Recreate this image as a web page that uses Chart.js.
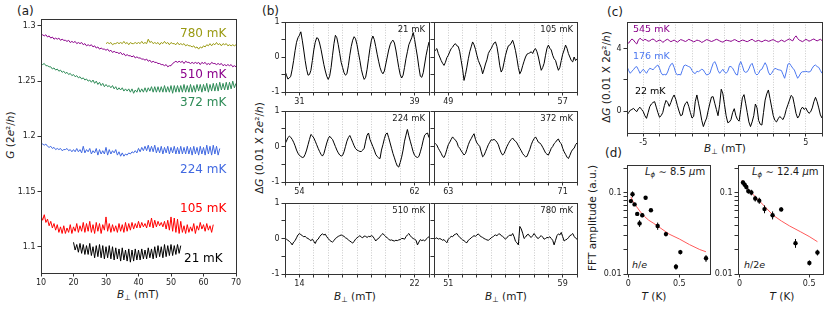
<!DOCTYPE html>
<html>
<head>
<meta charset="utf-8">
<script src="https://cdn.jsdelivr.net/npm/chart.js@4.4.1/dist/chart.umd.min.js"></script>
<style>
  body { margin: 0; background: #fff; }
  #fig { position: relative; width: 830px; height: 312px; overflow: hidden; background: #fff;
         font-family: "DejaVu Sans", sans-serif; color: #1a1a1a; }
  #fig canvas { position: absolute; }
  .t { position: absolute; white-space: nowrap; line-height: 1; }
  .c { transform: translate(-50%, -50%); }
  .l { transform: translate(0, -50%); }
  .r { transform: translate(-100%, -50%); }
  .v { transform: translate(-50%, -50%) rotate(-90deg); }
  .sb { font-size: 70%; vertical-align: -0.3em; }
  .ttl { font-size: 10.5px; }
</style>
</head>
<body>
<div id="fig">
  <!-- panel letters -->
  <div class="t l" style="left:17px;top:11px;font-size:12px">(a)</div>
  <div class="t l" style="left:262px;top:11px;font-size:12px">(b)</div>
  <div class="t l" style="left:607px;top:12px;font-size:12px">(c)</div>
  <div class="t l" style="left:605px;top:153px;font-size:12px">(d)</div>

  <!-- axis titles -->
  <div class="t v ttl" style="left:10px;top:135px"><i>G</i> (2<i>e</i>²/<i>h</i>)</div>
  <div class="t c ttl" style="left:138px;top:295px"><i>B</i><span class="sb">⊥</span> (mT)</div>
  <div class="t v ttl" style="left:259px;top:148px">Δ<i>G</i> (0.01 X 2<i>e</i>²/<i>h</i>)</div>
  <div class="t c ttl" style="left:355px;top:297px"><i>B</i><span class="sb">⊥</span> (mT)</div>
  <div class="t c ttl" style="left:506px;top:297px"><i>B</i><span class="sb">⊥</span> (mT)</div>
  <div class="t v ttl" style="left:606px;top:77px">Δ<i>G</i> (0.01 X 2<i>e</i>²/<i>h</i>)</div>
  <div class="t c ttl" style="left:725px;top:149px"><i>B</i><span class="sb">⊥</span> (mT)</div>
  <div class="t v ttl" style="left:592px;top:218px">FFT amplitude (a.u.)</div>
  <div class="t c ttl" style="left:654px;top:296px"><i>T</i> (K)</div>
  <div class="t c ttl" style="left:782px;top:296px"><i>T</i> (K)</div>

  <!-- panel (d) notes -->
  <div class="t l" style="left:645px;top:173px;font-size:10px"><i>L</i><span class="sb"><i>ϕ</i></span> ∼ 8.5 <i>μ</i>m</div>
  <div class="t l" style="left:752px;top:173px;font-size:10px"><i>L</i><span class="sb"><i>ϕ</i></span> ∼ 12.4 <i>μ</i>m</div>
  <div class="t l" style="left:632px;top:265px;font-size:9.5px"><i>h</i>/<i>e</i></div>
  <div class="t l" style="left:744px;top:265px;font-size:9.5px"><i>h</i>/2<i>e</i></div>
</div>

<script>
// ---------- panel (a): G vs B, one sample every 0.5 mT ----------
const aTemps = ['21 mK', '105 mK', '224 mK', '372 mK', '510 mK', '780 mK'];
const aColors = ['#000000', '#ff0000', '#4169e1', '#2e8b57', '#8b008b', '#9a9a12'];
const aStartB = [20, 10, 10, 10, 10, 30];
const aStepB = 0.5;
const aG21 = [
  1.104,1.097,1.102,1.095,1.103,1.094,1.102,1.093,1.101,1.093,
  1.103,1.092,1.100,1.090,1.101,1.091,1.102,1.090,1.101,1.089,
  1.100,1.090,1.101,1.089,1.100,1.088,1.099,1.089,1.098,1.087,
  1.099,1.088,1.097,1.087,1.098,1.086,1.097,1.087,1.098,1.088,
  1.097,1.088,1.098,1.089,1.097,1.089,1.099,1.090,1.098,1.089,
  1.100,1.090,1.101,1.091,1.100,1.090,1.102,1.091,1.101,1.092,
  1.102,1.092,1.101,1.093,1.102,1.094,1.101];
const aG105 = [
  1.128,1.124,1.129,1.122,1.125,1.119,1.123,1.117,1.121,1.115,
  1.120,1.113,1.118,1.112,1.119,1.112,1.117,1.113,1.120,1.112,
  1.118,1.114,1.121,1.113,1.119,1.114,1.122,1.113,1.121,1.114,
  1.123,1.113,1.120,1.112,1.122,1.114,1.121,1.112,1.120,1.115,
  1.127,1.114,1.121,1.113,1.120,1.114,1.119,1.113,1.121,1.114,
  1.120,1.113,1.122,1.114,1.121,1.115,1.122,1.116,1.121,1.117,
  1.123,1.117,1.122,1.118,1.121,1.117,1.124,1.118,1.126,1.117,
  1.124,1.118,1.123,1.119,1.122,1.118,1.123,1.116,1.124,1.115,
  1.127,1.114,1.126,1.113,1.125,1.112,1.123,1.113,1.119,1.112,
  1.120,1.113,1.118,1.114,1.121,1.112,1.119,1.115,1.122,1.116,
  1.120,1.114,1.121,1.115,1.119,1.113,1.120];
const aG224 = [
  1.194,1.193,1.192,1.193,1.191,1.190,1.191,1.189,1.190,1.188,
  1.189,1.188,1.189,1.187,1.188,1.188,1.189,1.187,1.188,1.186,
  1.188,1.186,1.189,1.186,1.188,1.185,1.191,1.185,1.188,1.186,
  1.189,1.184,1.187,1.185,1.189,1.183,1.188,1.184,1.187,1.184,
  1.190,1.183,1.188,1.184,1.187,1.185,1.188,1.183,1.186,1.182,
  1.185,1.182,1.184,1.183,1.185,1.184,1.186,1.185,1.187,1.185,
  1.189,1.186,1.190,1.187,1.191,1.187,1.192,1.186,1.191,1.186,
  1.192,1.185,1.190,1.185,1.191,1.184,1.190,1.185,1.191,1.184,
  1.190,1.185,1.191,1.184,1.190,1.184,1.191,1.184,1.190,1.184,
  1.191,1.184,1.190,1.183,1.191,1.184,1.190,1.183,1.191,1.184,
  1.190,1.183,1.192,1.184,1.191,1.183,1.192,1.184,1.191,1.183,
  1.189];
const aG372 = [
  1.266,1.265,1.266,1.264,1.264,1.263,1.263,1.261,1.262,1.260,
  1.261,1.259,1.260,1.258,1.259,1.257,1.258,1.256,1.257,1.255,
  1.256,1.254,1.255,1.253,1.254,1.252,1.253,1.251,1.252,1.250,
  1.251,1.249,1.251,1.248,1.250,1.247,1.249,1.246,1.248,1.245,
  1.247,1.245,1.246,1.244,1.246,1.243,1.245,1.242,1.244,1.242,
  1.244,1.241,1.243,1.241,1.243,1.240,1.243,1.239,1.242,1.240,
  1.244,1.240,1.243,1.240,1.244,1.240,1.244,1.241,1.245,1.240,
  1.245,1.240,1.245,1.240,1.245,1.240,1.246,1.240,1.245,1.240,
  1.246,1.239,1.246,1.240,1.246,1.240,1.246,1.240,1.247,1.240,
  1.246,1.240,1.247,1.240,1.246,1.240,1.247,1.241,1.247,1.240,
  1.247,1.241,1.248,1.240,1.247,1.241,1.248,1.241,1.248,1.241,
  1.249,1.242,1.248,1.242,1.249,1.242,1.249,1.243,1.250,1.244,
  1.248];
const aG510 = [
  1.291,1.292,1.291,1.292,1.290,1.291,1.289,1.290,1.288,1.289,
  1.288,1.289,1.287,1.288,1.287,1.287,1.286,1.287,1.285,1.286,
  1.285,1.286,1.284,1.285,1.284,1.285,1.283,1.284,1.282,1.283,
  1.282,1.283,1.281,1.282,1.280,1.281,1.279,1.280,1.279,1.279,
  1.278,1.279,1.277,1.278,1.276,1.277,1.276,1.276,1.275,1.276,
  1.274,1.275,1.273,1.274,1.273,1.273,1.272,1.273,1.271,1.272,
  1.271,1.271,1.270,1.270,1.269,1.270,1.268,1.269,1.267,1.268,
  1.267,1.267,1.266,1.266,1.265,1.265,1.264,1.265,1.263,1.264,
  1.264,1.266,1.267,1.268,1.267,1.268,1.267,1.268,1.266,1.268,
  1.267,1.267,1.266,1.267,1.266,1.267,1.266,1.267,1.265,1.267,
  1.266,1.267,1.265,1.266,1.265,1.267,1.266,1.266,1.265,1.266,
  1.265,1.266,1.264,1.265,1.264,1.265,1.264,1.265,1.263,1.264,
  1.263];
const aG780 = [
  1.284,1.285,1.284,1.285,1.283,1.284,1.284,1.285,1.284,1.285,
  1.284,1.286,1.284,1.285,1.283,1.285,1.284,1.284,1.285,1.284,
  1.285,1.284,1.286,1.284,1.285,1.284,1.288,1.285,1.286,1.284,
  1.285,1.284,1.285,1.283,1.285,1.284,1.286,1.284,1.285,1.283,
  1.285,1.284,1.284,1.283,1.285,1.283,1.284,1.283,1.284,1.282,
  1.283,1.282,1.282,1.281,1.282,1.280,1.281,1.279,1.281,1.280,
  1.282,1.281,1.283,1.282,1.284,1.282,1.284,1.283,1.285,1.283,
  1.284,1.282,1.284,1.283,1.284,1.282,1.283,1.282,1.283,1.282,
  1.283];
const aTicksX = [10, 20, 30, 40, 50, 60, 70];
const aTicksY = [1.1, 1.15, 1.2, 1.25, 1.3];

// ---------- panel (b): ΔG windows, one sample every 0.1 mT ----------
const bTemps = ['21 mK', '105 mK', '224 mK', '372 mK', '510 mK', '780 mK'];
const bStartB = [30, 48, 53, 62, 13, 50];
const bStepB = 0.1;
const bDG21 = [
  -0.40,-0.52,-0.63,-0.60,-0.55,-0.35,-0.10,0.18,0.42,0.55,
  0.62,0.72,0.48,0.20,-0.10,-0.35,-0.52,-0.50,-0.38,-0.10,
  0.20,0.42,0.55,0.53,0.40,0.22,0.00,-0.22,-0.40,-0.55,
  -0.64,-0.55,-0.30,0.05,0.38,0.62,0.55,0.35,0.10,-0.15,
  -0.30,-0.45,-0.52,-0.48,-0.25,0.05,0.30,0.48,0.58,0.52,
  0.35,0.12,-0.10,-0.35,-0.52,-0.64,-0.58,-0.35,-0.05,0.25,
  0.48,0.60,0.50,0.30,0.08,-0.12,-0.30,-0.42,-0.48,-0.40,
  -0.20,0.00,0.20,0.35,0.44,0.48,0.40,0.20,-0.05,-0.30,
  -0.50,-0.60,-0.52,-0.30,-0.05,0.15,0.35,0.45,0.55,0.70,
  0.50,0.25,0.00,-0.30,-0.55,-0.58,-0.45,-0.20,0.05,0.25,
  0.43];
const bDG105 = [
  0.14,0.20,0.24,0.10,0.00,-0.10,-0.18,-0.24,-0.15,-0.02,
  0.05,0.15,0.24,0.28,0.35,0.38,0.32,0.30,0.15,-0.10,
  -0.35,-0.67,-0.50,-0.29,-0.05,0.15,0.29,0.43,0.35,0.22,
  0.05,-0.10,-0.20,-0.30,-0.48,-0.35,-0.20,-0.08,0.10,0.18,
  0.24,0.33,0.40,0.43,0.30,0.05,-0.25,-0.43,-0.35,-0.15,
  0.05,0.20,0.32,0.34,0.40,0.48,0.35,0.18,-0.05,-0.30,
  -0.48,-0.40,-0.25,-0.12,0.00,0.08,0.10,0.12,0.15,0.10,
  0.20,0.24,0.15,0.00,-0.20,-0.38,-0.30,-0.18,0.05,0.25,
  0.34,0.25,0.20,0.05,-0.05,-0.10,-0.25,-0.38,-0.30,-0.10,
  0.08,0.20,0.34,0.25,0.10,0.00,-0.10,-0.14,0.00,-0.10,
  -0.05];
const bDG224 = [
  0.08,0.15,0.25,0.29,0.26,0.20,0.12,0.02,-0.10,-0.19,
  -0.25,-0.28,-0.31,-0.30,-0.22,-0.10,0.05,0.20,0.34,0.30,
  0.24,0.15,0.05,-0.05,-0.14,-0.22,-0.27,-0.20,-0.05,0.10,
  0.22,0.29,0.24,0.20,0.10,0.00,-0.10,-0.18,-0.24,-0.27,
  -0.25,-0.15,0.00,0.15,0.25,0.31,0.22,0.12,0.02,-0.06,
  -0.10,-0.12,-0.14,-0.14,-0.10,-0.05,0.15,0.32,0.38,0.20,
  0.10,0.00,-0.10,-0.22,-0.28,-0.32,-0.34,-0.10,0.05,0.22,
  0.35,0.38,0.25,0.10,-0.05,-0.20,-0.32,-0.45,-0.55,-0.58,
  -0.45,-0.30,-0.10,0.15,0.32,0.48,0.30,0.15,0.00,-0.15,
  -0.25,-0.29,-0.31,-0.28,-0.15,0.00,0.18,0.32,0.36,0.38,
  0.25];
const bDG372 = [
  0.10,0.08,0.04,-0.05,-0.12,-0.19,-0.28,-0.31,-0.22,-0.08,
  0.05,0.12,0.20,0.27,0.22,0.18,0.12,0.00,-0.05,-0.12,
  -0.18,-0.24,-0.20,-0.08,0.05,0.15,0.22,0.30,0.36,0.20,
  0.10,0.05,0.00,-0.15,-0.29,-0.25,-0.15,-0.05,0.05,0.12,
  0.19,0.18,0.20,0.17,0.12,0.05,-0.08,-0.18,-0.24,-0.20,
  -0.10,0.00,0.08,0.15,0.20,0.24,0.18,0.15,0.10,0.02,
  -0.05,-0.12,-0.20,-0.25,-0.29,-0.28,-0.18,-0.08,0.05,0.15,
  0.22,0.27,0.20,0.12,0.10,0.05,-0.02,-0.10,-0.18,-0.22,
  -0.24,-0.15,-0.05,0.00,0.08,0.12,0.18,0.21,0.12,0.08,
  -0.05,-0.15,-0.22,-0.30,-0.34,-0.25,-0.15,-0.08,-0.05,0.05,
  0.10];
const bDG510 = [
  0.00,-0.02,-0.05,-0.08,-0.12,-0.18,-0.10,-0.06,0.02,0.10,
  0.14,0.11,0.08,0.05,0.06,0.02,0.00,-0.03,-0.06,-0.02,
  -0.08,-0.14,-0.05,-0.02,0.05,0.10,0.13,0.10,0.12,0.05,
  0.00,-0.05,-0.08,-0.10,-0.06,0.00,0.03,0.06,0.08,0.10,
  0.08,0.06,0.02,0.00,-0.04,-0.07,-0.10,-0.13,-0.08,-0.02,
  0.02,0.05,0.08,0.04,0.02,0.07,0.06,0.03,0.06,0.05,
  0.08,0.06,0.00,-0.07,-0.02,0.00,0.06,0.10,0.14,0.09,
  0.05,0.02,-0.02,-0.05,-0.04,-0.06,-0.07,-0.05,-0.06,-0.04,
  -0.03,0.00,0.00,-0.02,0.05,0.10,0.14,0.08,0.03,0.00,
  -0.02,-0.05,-0.18,-0.10,-0.03,-0.06,-0.04,-0.07,-0.02,0.02,
  0.05];
const bDG780 = [
  0.03,0.00,0.02,-0.02,0.00,-0.02,-0.05,-0.03,-0.08,-0.12,
  -0.02,0.02,0.06,0.05,0.10,0.12,0.14,0.08,0.03,0.00,
  -0.04,-0.06,-0.10,-0.12,-0.05,-0.02,0.02,0.05,0.08,0.06,
  0.10,0.13,0.08,0.05,0.03,0.00,-0.02,-0.04,-0.05,-0.02,
  0.02,0.04,0.08,0.10,0.08,0.12,0.13,0.08,0.06,0.02,
  -0.02,0.03,0.06,0.10,0.08,0.14,0.05,-0.08,-0.12,-0.18,
  0.34,0.27,0.15,0.00,0.04,0.10,0.12,0.06,0.03,0.08,
  0.14,0.08,0.02,0.00,0.05,0.08,0.04,-0.02,0.00,0.03,
  0.02,0.05,0.00,-0.05,-0.18,-0.05,0.08,0.13,0.10,0.17,
  0.05,-0.07,-0.04,-0.02,0.02,0.08,0.10,0.14,0.06,0.01,
  -0.02];
const bXLabels = [[31, 39], [49, 57], [54, 62], [63, 71], [14, 22], [51, 59]];
const bYLabels = [-1, 0, 1];

// ---------- panel (c): ΔG around zero field, one sample every 0.1 mT ----------
const cTemps = ['22 mK', '176 mK', '545 mK'];
const cColors = ['#000000', '#4c78f0', '#8b008b'];
const cStartB = -6;
const cStepB = 0.1;
const cDG22 = [
  -0.26,-0.10,0.05,0.10,0.17,0.05,-0.04,0.15,0.24,0.10,
  -0.04,-0.30,-0.47,-0.10,0.28,0.45,0.55,0.60,0.25,-0.10,
  -0.40,-0.30,-0.10,0.35,0.68,0.55,0.30,0.55,0.85,1.03,
  0.75,0.35,0.00,-0.30,-0.25,0.25,0.50,0.60,0.30,-0.10,
  -0.45,-0.35,0.60,1.03,0.50,0.00,-0.60,-1.00,-0.70,-0.45,
  0.05,0.50,0.90,0.92,0.50,0.10,-0.30,0.40,1.40,1.10,
  0.40,-0.30,-0.75,-0.70,-0.55,-0.10,0.15,-0.30,-0.55,-0.65,
  0.10,0.85,1.05,0.50,-0.10,-0.70,-1.00,-0.70,-0.30,0.45,
  0.20,-0.60,-0.85,-0.90,-0.10,0.70,1.10,1.35,0.80,0.25,
  -0.30,-0.60,-0.70,-0.50,-0.35,-0.45,-0.55,-0.30,0.10,0.40,
  0.70,1.00,0.90,0.40,-0.15,-0.45,-0.30,0.10,0.25,0.10,
  0.20,0.00,-0.15,-0.05,0.20,0.60,0.88,0.60,0.20,-0.25,
  -0.45];
const cDG176 = [
  2.85,2.60,2.42,2.55,2.65,2.80,2.85,2.65,2.42,2.55,
  2.68,2.55,2.42,2.60,2.74,2.70,2.65,2.75,2.88,2.95,
  2.75,2.45,2.31,2.35,2.31,2.50,2.80,3.00,3.06,2.80,
  2.45,2.31,2.35,2.31,2.60,2.90,2.95,2.90,2.85,2.80,
  2.60,2.45,2.40,2.55,2.52,2.60,2.68,2.63,2.45,2.31,
  2.35,2.42,2.75,3.05,3.17,2.95,2.60,2.42,2.55,2.68,
  2.50,2.42,2.55,2.85,2.85,2.75,2.55,2.35,2.31,2.95,
  3.17,2.90,2.55,2.48,2.52,2.70,2.95,3.06,2.75,2.40,
  2.31,2.42,2.63,2.68,2.90,3.10,2.90,2.50,2.31,2.42,
  2.60,2.74,2.70,2.65,2.63,2.60,2.35,2.10,2.50,3.00,
  3.06,2.90,2.75,2.63,2.35,2.10,2.25,2.45,2.52,2.52,
  2.55,2.52,2.50,2.55,2.75,2.90,2.95,2.85,2.80,2.60,
  2.42];
const cDG545 = [
  4.45,4.35,4.50,4.62,4.55,4.40,4.30,4.55,4.67,4.58,
  4.52,4.60,4.55,4.48,4.50,4.58,4.62,4.55,4.45,4.50,
  4.55,4.52,4.40,4.48,4.56,4.60,4.52,4.45,4.50,4.55,
  4.48,4.42,4.50,4.58,4.55,4.50,4.46,4.52,4.60,4.55,
  4.50,4.44,4.48,4.55,4.52,4.48,4.40,4.45,4.52,4.58,
  4.55,4.50,4.46,4.50,4.55,4.60,4.56,4.50,4.45,4.42,
  4.48,4.55,4.52,4.50,4.47,4.52,4.58,4.55,4.48,4.44,
  4.50,4.55,4.53,4.48,4.45,4.50,4.56,4.60,4.52,4.46,
  4.50,4.53,4.48,4.44,4.50,4.55,4.52,4.47,4.50,4.55,
  4.58,4.52,4.46,4.42,4.48,4.55,4.50,4.45,4.52,4.58,
  4.62,4.55,4.50,4.70,4.82,4.65,4.55,4.50,4.45,4.52,
  4.60,4.55,4.48,4.52,4.58,4.62,4.55,4.50,4.55,4.60,
  4.52];
const cXLabels = [-5, 5];
const cTicksY = [0, 2, 4];
const cYLabels = [0, 4];

// ---------- panel (d): FFT amplitude vs T ----------
const dT1 = [0.026, 0.042, 0.062, 0.088, 0.111, 0.137, 0.17, 0.222, 0.288, 0.369, 0.467, 0.51, 0.761];
const dAmp1 = [0.079, 0.096, 0.072, 0.055, 0.042, 0.053, 0.087, 0.061, 0.039, 0.031, 0.0123, 0.0186, 0.0156];
const dErr1 = [0.004, 0.008, 0.003, 0.003, 0.004, 0.003, 0.004, 0.003, 0.004, 0.002, 0.001, 0.0012, 0.0015];
const dFitT1 = [0.026, 0.05, 0.08, 0.12, 0.16, 0.2, 0.25, 0.3, 0.4, 0.5, 0.6, 0.7, 0.76];
const dFit1 = [0.089, 0.077, 0.068, 0.058, 0.051, 0.046, 0.042, 0.038, 0.031, 0.027, 0.023, 0.020, 0.0188];
const dT2 = [0.024, 0.036, 0.048, 0.062, 0.084, 0.112, 0.141, 0.179, 0.237, 0.299, 0.402, 0.502, 0.56];
const dAmp2 = [0.134, 0.126, 0.118, 0.105, 0.101, 0.085, 0.080, 0.063, 0.053, 0.0625, 0.024, 0.0137, 0.0184];
const dErr2 = [0.008, 0.008, 0.008, 0.008, 0.008, 0.007, 0.007, 0.007, 0.006, 0.004, 0.003, 0.001, 0.0015];
const dFitT2 = [0.017, 0.04, 0.07, 0.1, 0.14, 0.18, 0.24, 0.3, 0.36, 0.44, 0.5, 0.56];
const dFit2 = [0.143, 0.122, 0.106, 0.094, 0.080, 0.068, 0.053, 0.045, 0.039, 0.033, 0.029, 0.025];
const dTicksX = [0, 0.5];
const dTicksY = [0.01, 0.02, 0.03, 0.04, 0.05, 0.06, 0.07, 0.08, 0.09, 0.1, 0.2];
const dYLabels = [0.01, 0.1];

// ---------- helpers ----------
const fig = document.getElementById('fig');

// matplotlib style frame on all four sides, drawn over the data
const framePlugin = {
  id: 'frame',
  afterDatasetsDraw(chart) {
    const { ctx, chartArea: a } = chart;
    ctx.save();
    ctx.strokeStyle = '#333';
    ctx.lineWidth = 1;
    ctx.strokeRect(a.left + 0.5, a.top + 0.5, a.right - a.left, a.bottom - a.top);
    ctx.restore();
  }
};

// vertical error bars for datasets that carry an "errors" list
const errPlugin = {
  id: 'errbars',
  afterDatasetsDraw(chart) {
    const { ctx } = chart;
    const ys = chart.scales.y;
    chart.data.datasets.forEach((ds, i) => {
      if (!ds.errors) return;
      const meta = chart.getDatasetMeta(i);
      ctx.save();
      ctx.strokeStyle = '#000';
      ctx.lineWidth = 1;
      meta.data.forEach((pt, j) => {
        const v = ds.data[j].y, e = ds.errors[j];
        ctx.beginPath();
        ctx.moveTo(pt.x, ys.getPixelForValue(v + e));
        ctx.lineTo(pt.x, ys.getPixelForValue(v - e));
        ctx.stroke();
      });
      ctx.restore();
    });
  }
};

const series = (b0, db, vals) => vals.map((v, i) => ({ x: b0 + i * db, y: v }));
const pairs = (xs, ys) => xs.map((x, i) => ({ x, y: ys[i] }));
const trace = (data, color) => ({ data, borderColor: color, borderWidth: 1, pointRadius: 0, tension: 0, fill: false });

// one axis; "ticks" is either an explicit list or a step size
function axis(min, max, ticks, labels, extra) {
  const ax = {
    type: 'linear', min, max,
    ticks: {
      autoSkip: false, maxRotation: 0, padding: 2, color: '#222',
      font: { family: '"DejaVu Sans", sans-serif', size: 8 },
      callback: v => labels.includes(v) ? String(v) : ''
    },
    grid: { drawOnChartArea: false, tickLength: 3.5, tickColor: '#333', tickWidth: 1, tickBorderDash: [] },
    border: { display: false }
  };
  if (Array.isArray(ticks)) ax.afterBuildTicks = s => { s.ticks = ticks.map(v => ({ value: v })); };
  else ax.ticks.stepSize = ticks;
  return Object.assign(ax, extra || {});
}

// dotted vertical gridlines at every tick (panels b and c)
const dottedGrid = {
  grid: { drawOnChartArea: true, color: '#bdbdbd', lineWidth: 0.8, tickLength: 3.5, tickColor: '#333', tickWidth: 1, tickBorderDash: [] },
  border: { display: false, dash: [1, 1.6] }
};

// area = plot rectangle on the page, gut = room for ticks around it
function place(area, gut, datasets, sx, sy) {
  const cv = document.createElement('canvas');
  const w = area.r - area.l + gut.l + gut.r;
  const h = area.b - area.t + gut.t + gut.b;
  cv.width = w; cv.height = h;
  cv.style.left = (area.l - gut.l) + 'px';
  cv.style.top = (area.t - gut.t) + 'px';
  cv.style.width = w + 'px';
  cv.style.height = h + 'px';
  fig.appendChild(cv);
  sx.afterFit = s => { s.height = gut.b; };
  sy.afterFit = s => { s.width = gut.l; };
  return new Chart(cv, {
    type: 'line',
    data: { datasets },
    options: {
      responsive: false, animation: false, events: [],
      layout: { padding: { left: 0, top: gut.t, right: gut.r, bottom: 0 } },
      plugins: { legend: { display: false }, tooltip: { enabled: false } },
      scales: { x: sx, y: sy }
    },
    plugins: [framePlugin, errPlugin]
  });
}

function label(text, x, y, cls, size, color) {
  const d = document.createElement('div');
  d.className = 't ' + cls;
  d.textContent = text;
  d.style.left = x + 'px';
  d.style.top = y + 'px';
  d.style.fontSize = size + 'px';
  d.style.color = color;
  fig.appendChild(d);
}

// ---------- panel (a) ----------
const aSeries = [aG21, aG105, aG224, aG372, aG510, aG780];
place({ l: 41, t: 19, r: 236, b: 273 }, { l: 40, b: 28, t: 8, r: 10 },
  aSeries.map((vals, i) => trace(series(aStartB[i], aStepB, vals), aColors[i])),
  axis(10, 70, aTicksX, aTicksX),
  axis(1.0762, 1.3063, aTicksY, aTicksY));
const aLabelPos = [[184, 258], [180, 208], [180, 168.5], [180, 102], [180, 74], [180, 33]];
aTemps.forEach((t, i) => label(t, aLabelPos[i][0], aLabelPos[i][1], 'l', 12, aColors[i]));

// ---------- panel (b) ----------
const bSeries = [bDG21, bDG105, bDG224, bDG372, bDG510, bDG780];
const bAreas = [
  { l: 285, t: 22, r: 429, b: 92 },  { l: 434, t: 22, r: 577, b: 92 },
  { l: 285, t: 111, r: 429, b: 182 }, { l: 434, t: 111, r: 577, b: 182 },
  { l: 285, t: 203, r: 429, b: 274 }, { l: 434, t: 203, r: 577, b: 274 }
];
bSeries.forEach((vals, i) => {
  const leftCol = i % 2 === 0;
  place(bAreas[i], { l: leftCol ? 20 : 5, b: 16, t: 8, r: 6 },
    [trace(series(bStartB[i], bStepB, vals), '#000')],
    axis(bStartB[i], bStartB[i] + 10, 1, bXLabels[i], dottedGrid),
    axis(-1, 1, 0.5, leftCol ? bYLabels : []));
  label(bTemps[i], bAreas[i].r - 4, bAreas[i].t + 7, 'r', 8.5, '#222');
});

// ---------- panel (c) ----------
const cSeries = [cDG22, cDG176, cDG545];
place({ l: 627, t: 22, r: 822, b: 133 }, { l: 14, b: 16, t: 8, r: 8 },
  cSeries.map((vals, i) => trace(series(cStartB, cStepB, vals), cColors[i])),
  axis(-6, 6, 1, cXLabels, dottedGrid),
  axis(-1.41, 5.71, cTicksY, cYLabels));
const cLabelPos = [[635, 91], [633, 56], [633, 29]];
cTemps.forEach((t, i) => label(t, cLabelPos[i][0], cLabelPos[i][1], 'l', 9.5, cColors[i]));

// ---------- panel (d) ----------
function fftPanel(area, xMax, T, amp, err, fitT, fit) {
  const pts = { data: pairs(T, amp), errors: err, showLine: false, pointRadius: 2.2,
                pointBorderWidth: 0, pointBackgroundColor: '#000', borderColor: '#000' };
  const line = { data: pairs(fitT, fit), borderColor: '#ff5a5a', borderWidth: 1, pointRadius: 0, tension: 0 };
  const sy = axis(0.01, 0.22, dTicksY, dYLabels);
  sy.type = 'logarithmic';
  place(area, { l: 24, b: 16, t: 8, r: 8 }, [pts, line],
    axis(-0.012, xMax, dTicksX, dTicksX), sy);
}
fftPanel({ l: 627, t: 165, r: 710, b: 274 }, 0.80, dT1, dAmp1, dErr1, dFitT1, dFit1);
fftPanel({ l: 738, t: 165, r: 823, b: 274 }, 0.60, dT2, dAmp2, dErr2, dFitT2, dFit2);
</script>
</body>
</html>
